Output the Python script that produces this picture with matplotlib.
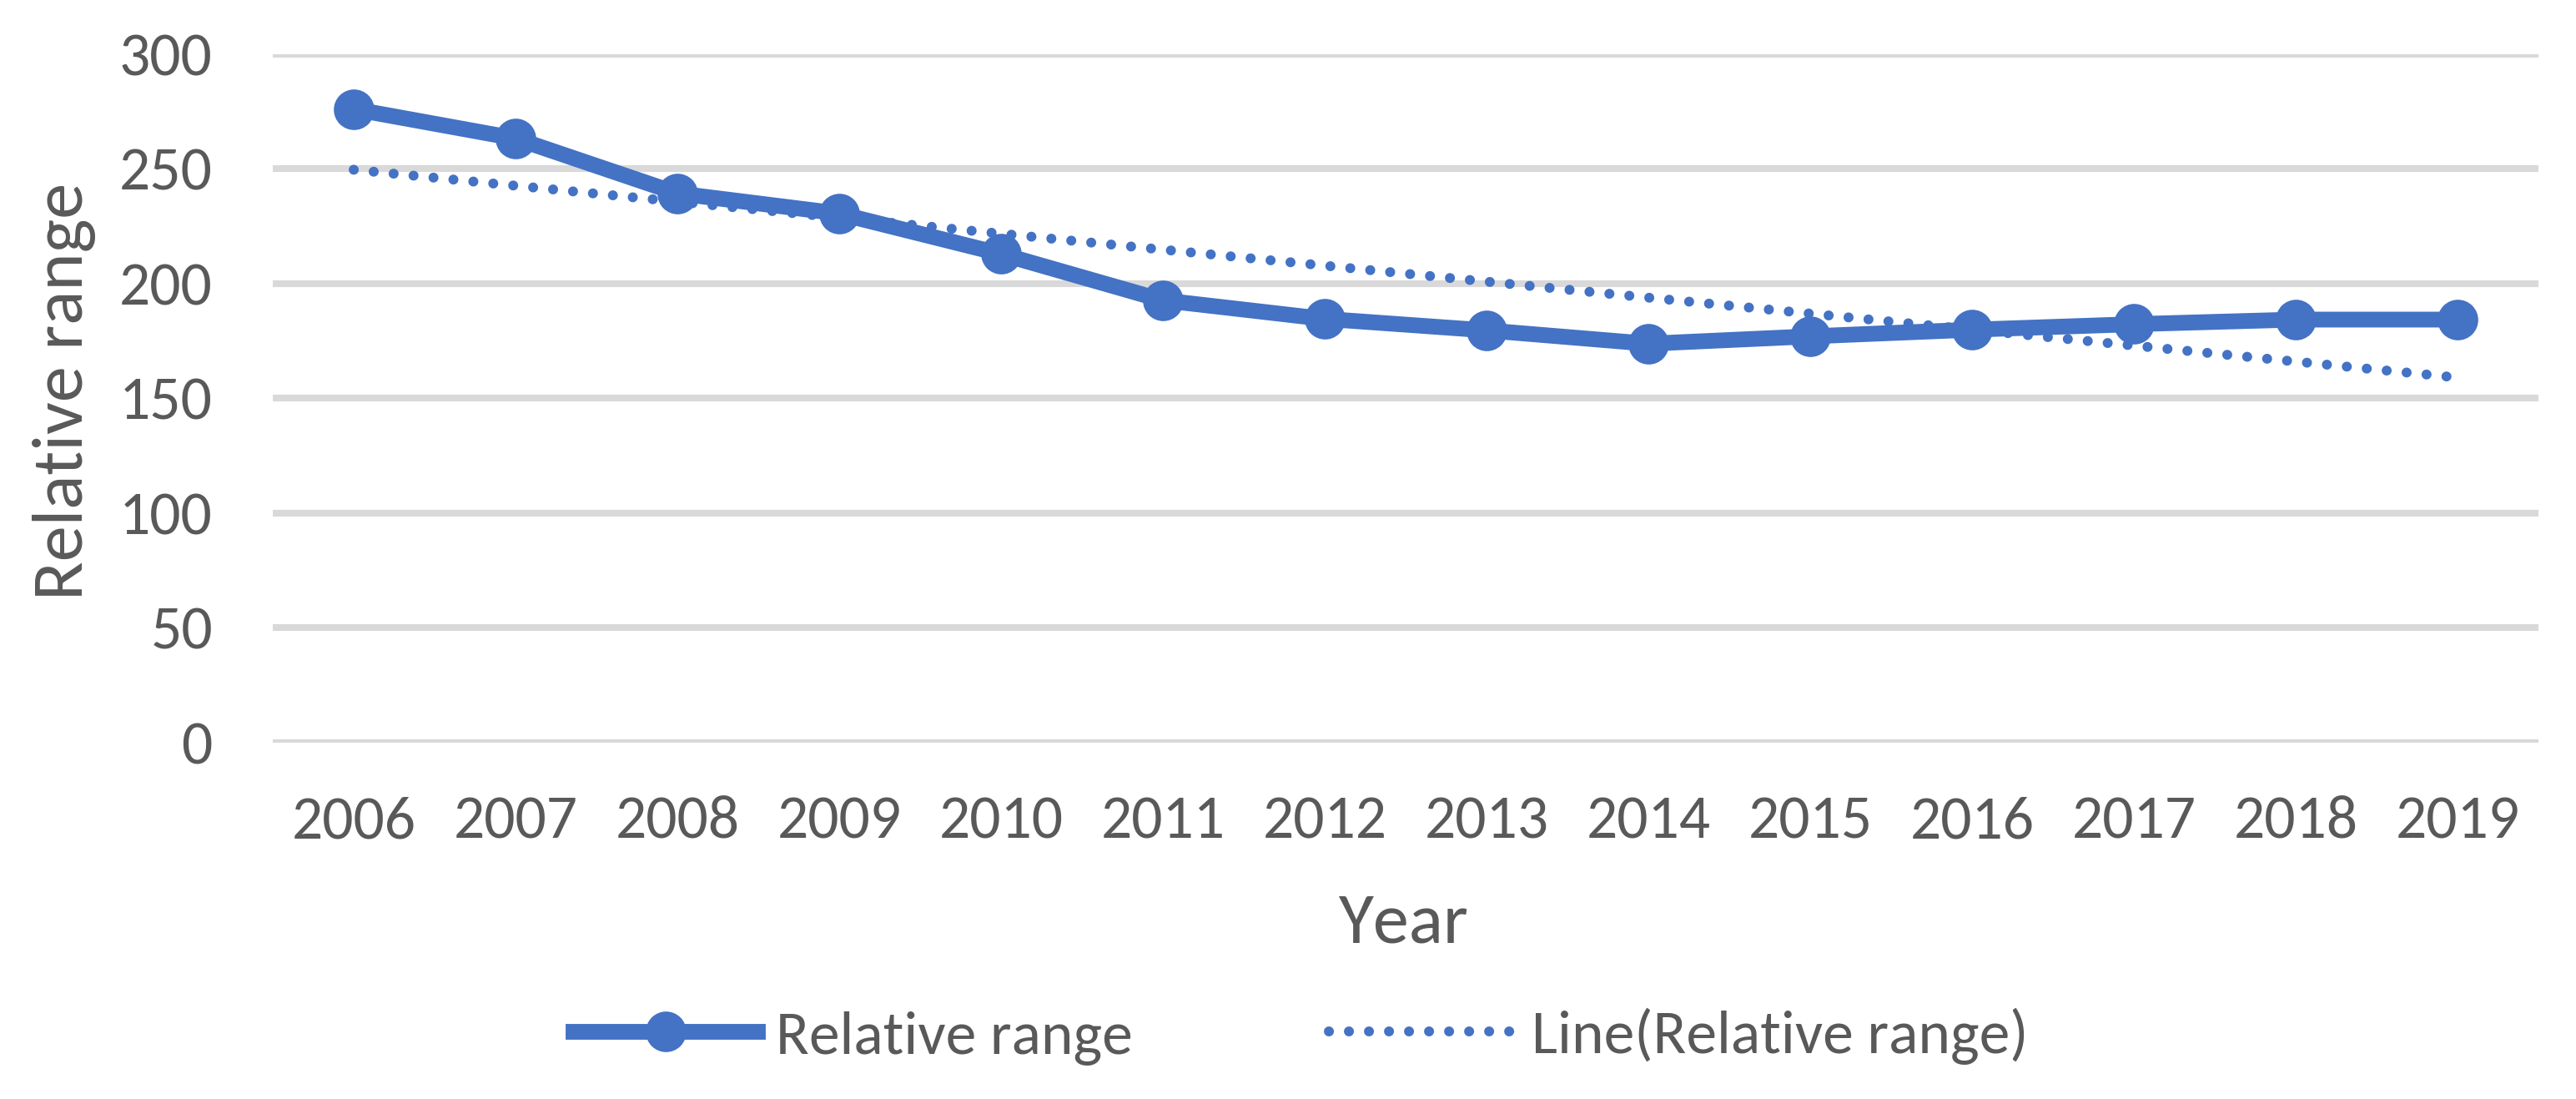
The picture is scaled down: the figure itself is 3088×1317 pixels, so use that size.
import numpy as np
import matplotlib
matplotlib.use('Agg')
import matplotlib.pyplot as plt
from matplotlib.lines import Line2D

years = ['2006', '2007', '2008', '2009', '2010', '2011', '2012',
         '2013', '2014', '2015', '2016', '2017', '2018', '2019']
relative_range = [276.0, 263.2, 239.3, 230.5, 212.9, 192.7, 184.6,
                  179.6, 173.8, 177.0, 179.9, 182.3, 184.3, 184.3]
y_ticks = [0, 50, 100, 150, 200, 250, 300]

plt.rcParams['font.family'] = ['Carlito', 'Liberation Sans Narrow', 'DejaVu Sans']
txt = '#595959'
blue = '#4472c4'
fs = 26.5

fig = plt.figure(figsize=(15.44, 6.585), dpi=200)
ax = fig.add_axes([0.1059, 0.3242, 0.8795, 0.6267])

x = np.arange(len(years))
# linear trend line (Excel-style)
k, b = np.polyfit(x, relative_range, 1)
trend = k * x + b

ax.plot(x, relative_range, color=blue, lw=6.8, marker='o', ms=16.5,
        solid_joinstyle='round', zorder=3)
ax.plot(x, trend, color=blue, lw=4.3, linestyle=(0, (0.01, 2.0)),
        dash_capstyle='round', zorder=4)

ax.set_xlim(-0.5, len(years) - 0.5)
ax.set_ylim(0, 300)
ax.set_yticks(y_ticks)
ax.set_xticks(x)
ax.set_xticklabels(years)
ax.grid(axis='y', color='#d9d9d9', lw=2.9)
ax.set_axisbelow(True)
for s in ax.spines.values():
    s.set_visible(False)
ax.tick_params(length=0, labelsize=fs, colors=txt)
ax.tick_params(axis='x', pad=23)
ax.tick_params(axis='y', pad=26)

ax.set_xlabel('Year', fontsize=31, color=txt, va='center')
ax.xaxis.set_label_coords(0.499, -0.262)
ax.set_ylabel('Relative range', fontsize=31, color=txt, va='center')
ax.yaxis.set_label_coords(-0.092, 0.51)

h1 = Line2D([], [], color=blue, lw=6.8, marker='o', ms=16.5)
h2 = Line2D([], [], color=blue, lw=4.3, linestyle=(0, (0.01, 2.0)),
            dash_capstyle='round')
fig.legend([h1, h2], ['Relative range', 'Line(Relative range)'],
           loc='center', bbox_to_anchor=(0.505, 0.057), ncol=2, frameon=False,
           fontsize=fs, labelcolor=txt, handlelength=3.0, handletextpad=0.3,
           columnspacing=3.2)

fig.savefig('out.png', dpi=200)
